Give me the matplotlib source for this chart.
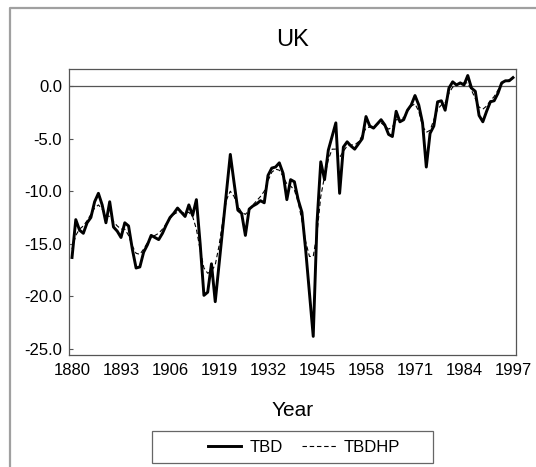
import numpy as np
import matplotlib.pyplot as plt
from matplotlib.lines import Line2D
from matplotlib.patches import Rectangle

plt.rcParams['font.family'] = ['Liberation Sans', 'DejaVu Sans']

years = np.arange(1880, 1998)

# TBD (1880 .. 1997)
tbd = [
    -16.3, -12.7, -13.7, -14.0, -13.0, -12.5, -11.0, -10.2, -11.3, -13.0,
    -11.0, -13.4, -13.8, -14.4, -13.0, -13.3, -15.5, -17.3, -17.2, -15.8,
    -15.1, -14.2, -14.4, -14.6, -14.0, -13.2, -12.5, -12.1, -11.6, -12.0,
    -12.4, -11.3, -12.3, -10.8, -15.0, -19.9, -19.6, -16.9, -20.5, -17.0,
    -13.5, -10.0, -6.5, -9.2, -11.8, -12.1, -14.2, -11.7, -11.4, -11.2,
    -10.9, -11.1, -8.5, -7.8, -7.7, -7.3, -8.3, -10.8, -8.9, -9.1,
    -10.8, -12.0, -15.6, -19.7, -23.8, -13.0, -7.2, -8.9, -6.1, -4.8,
    -3.5, -10.2, -5.8, -5.3, -5.7, -6.0, -5.5, -5.0, -2.9, -3.8,
    -4.0, -3.6, -3.2, -3.7, -4.6, -4.8, -2.4, -3.4, -3.2, -2.3,
    -1.8, -0.9, -1.8, -3.5, -7.7, -4.5, -3.8, -1.5, -1.4, -2.3,
    -0.2, 0.4, 0.1, 0.3, 0.1, 1.0, -0.2, -0.5, -2.8, -3.4,
    -2.4, -1.5, -1.4, -0.7, 0.3, 0.5, 0.5, 0.8,
]

# TBDHP (trend)
tbdhp = [
    -15.5, -14.2, -13.6, -13.3, -12.8, -12.2, -11.6, -11.3, -11.7, -12.3,
    -12.4, -12.9, -13.3, -13.6, -13.6, -14.2, -15.2, -15.9, -16.0, -15.5,
    -14.9, -14.4, -14.2, -14.0, -13.6, -13.1, -12.6, -12.2, -12.0, -12.0,
    -12.1, -12.0, -12.4, -13.6, -15.6, -17.3, -17.8, -17.6, -17.0, -15.2,
    -12.8, -10.8, -10.0, -10.5, -11.4, -12.0, -12.2, -11.8, -11.3, -10.9,
    -10.5, -10.0, -9.0, -8.2, -7.9, -8.0, -8.6, -9.3, -9.5, -9.9,
    -11.0, -12.8, -14.8, -16.2, -16.2, -14.0, -10.5, -8.6, -7.0, -6.0,
    -6.0, -6.8, -6.2, -5.7, -5.6, -5.6, -5.3, -4.7, -4.0, -3.9,
    -3.9, -3.6, -3.5, -3.8, -4.1, -3.9, -3.2, -3.2, -3.0, -2.4,
    -1.9, -1.7, -2.4, -3.8, -4.4, -4.2, -3.2, -2.2, -1.8, -1.6,
    -0.7, -0.1, 0.1, 0.2, 0.3, 0.3, -0.4, -1.2, -2.0, -2.2,
    -1.9, -1.4, -1.0, -0.4, 0.2, 0.4, 0.6, 0.7,
]

xticks = [1880, 1893, 1906, 1919, 1932, 1945, 1958, 1971, 1984, 1997]
yticks = [0.0, -5.0, -10.0, -15.0, -20.0, -25.0]

W, H = 536, 467
fig = plt.figure(figsize=(W / 100, H / 100), dpi=100)
ax = fig.add_axes([69 / W, 1 - 355 / H, 447 / W, 286 / H])

ax.axhline(0, color='#555555', lw=0.9, zorder=1)
l1, = ax.plot(years, tbd, color='black', lw=2.1, zorder=3)
l2, = ax.plot(years, tbdhp, color='black', lw=0.8, ls=(0, (4, 2.5)), zorder=2)

ax.set_xlim(1879.2, 1997.8)
ax.set_ylim(-25.57, 1.62)
ax.set_xticks(xticks)
ax.set_yticks(yticks)
ax.set_yticklabels(["%.1f" % v for v in yticks])
ax.tick_params(axis='x', length=0, pad=6, labelsize=12)
ax.tick_params(axis='y', direction='in', length=3, pad=5, labelsize=12, color='#555555')
for s in ax.spines.values():
    s.set_color('#555555')
    s.set_linewidth(0.9)

fig.text(292.5 / W, 1 - 40 / H, "UK", ha='center', va='center', fontsize=17)
fig.text(292.5 / W, 1 - 410 / H, "Year", ha='center', va='center', fontsize=15)

# legend box
fig.patches.append(Rectangle((152 / W, 1 - 463 / H), 281 / W, 32 / H,
                             transform=fig.transFigure, fill=False,
                             edgecolor='#666666', lw=0.9))
fig.legend([l1, l2], ["TBD", "TBDHP"], loc='center',
           bbox_to_anchor=(304 / W, 1 - 447 / H), ncol=2, frameon=False,
           fontsize=12, handlelength=2.0, handletextpad=0.5, columnspacing=1.2)

# figure border (left and top)
fig.lines.append(Line2D([9.5 / W, 9.5 / W, 1], [0, 1 - 8 / H, 1 - 8 / H],
                        transform=fig.transFigure, color='#a0a0a0', lw=1.6))

fig.savefig("out.png", dpi=100)
